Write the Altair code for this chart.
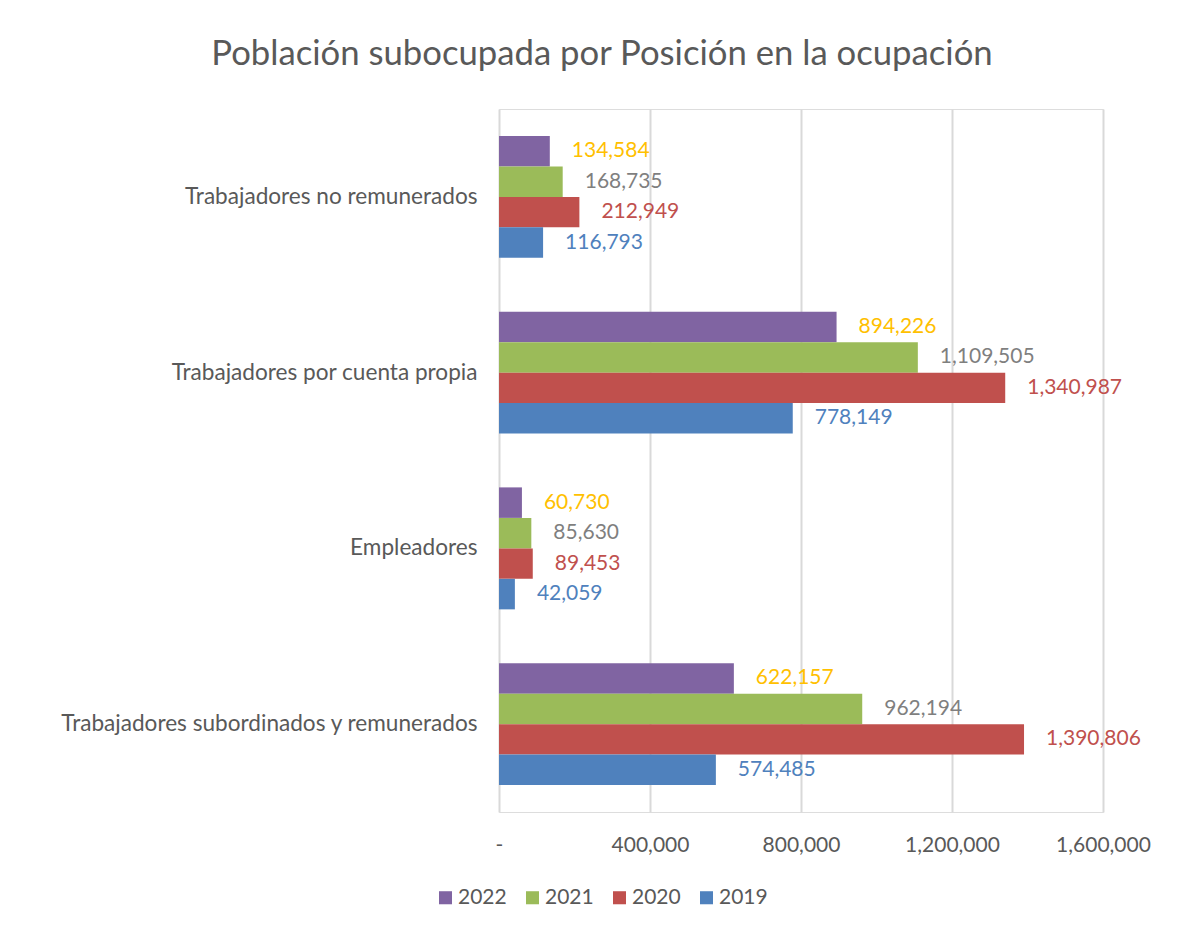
import altair as alt
import pandas as pd

categories = [
    "Trabajadores no remunerados",
    "Trabajadores por cuenta propia",
    "Empleadores",
    "Trabajadores subordinados y remunerados",
]
years = ["2022", "2021", "2020", "2019"]
values = {
    "2022": [134584, 894226, 60730, 622157],
    "2021": [168735, 1109505, 85630, 962194],
    "2020": [212949, 1340987, 89453, 1390806],
    "2019": [116793, 778149, 42059, 574485],
}
bar_colors = ["#8064A2", "#9BBB59", "#C0504D", "#4F81BD"]
label_colors = {"2022": "#FFC000", "2021": "#7F7F7F", "2020": "#C0504D", "2019": "#4F81BD"}
x_ticks = [0, 400000, 800000, 1200000, 1600000]

rows = []
for y in years:
    for c, v in zip(categories, values[y]):
        rows.append({"cat": c, "year": y, "value": v, "lcolor": label_colors[y]})
df = pd.DataFrame(rows)

FONT = "Lato"
TXT = "#595959"

base = alt.Chart(df).encode(
    y=alt.Y("cat:N", sort=categories, title=None,
            scale=alt.Scale(paddingInner=0.306, paddingOuter=0.153),
            axis=alt.Axis(ticks=False, domain=False, labelPadding=22, labelFontSize=22.6,
                          labelColor=TXT, labelFont=FONT, labelLimit=600)),
    yOffset=alt.YOffset("year:N", sort=years),
)

bars = base.mark_bar().encode(
    x=alt.X("value:Q", title=None,
            scale=alt.Scale(domain=[0, 1600000], nice=False),
            axis=alt.Axis(values=x_ticks, ticks=False, domain=False, grid=True,
                          gridColor="#D9D9D9", gridWidth=2, labelPadding=22,
                          labelFlush=False,
                          labelFontSize=21, labelColor=TXT, labelFont=FONT,
                          labelExpr="datum.value == 0 ? '-' : format(datum.value, ',')")),
    color=alt.Color("year:N", sort=years,
                    scale=alt.Scale(domain=years, range=bar_colors),
                    legend=alt.Legend(title=None, orient="none", direction="horizontal",
                                      legendX=-64, legendY=778, symbolType="square",
                                      symbolSize=170, symbolStrokeWidth=0,
                                      labelFontSize=21, labelColor=TXT, labelFont=FONT,
                                      columnPadding=15, labelOffset=2)),
)

labels = base.mark_text(align="left", baseline="middle", dx=22, fontSize=21, font=FONT).encode(
    x=alt.X("value:Q"),
    text=alt.Text("value:Q", format=","),
    color=alt.Color("lcolor:N", scale=None),
)

chart = (
    alt.layer(bars, labels)
    .properties(
        width=604,
        height=703,
        title=alt.TitleParams("Población subocupada por Posición en la ocupación",
                              fontSize=34.7, font=FONT, fontWeight="normal", color=TXT,
                              anchor="middle", dx=-199, offset=36),
        padding={"left": 491, "top": 101, "right": 66, "bottom": 108},
        autosize=alt.AutoSizeParams(type="none"),
    )
    .configure_view(stroke=None)
    .configure(background="white")
)

chart.save("out.html", embed_options={"renderer": "svg", "actions": False})
